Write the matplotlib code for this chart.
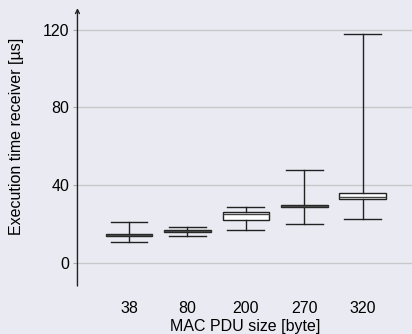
import matplotlib
matplotlib.use("Agg")
import matplotlib.pyplot as plt

categories = ["38", "80", "200", "270", "320"]
whisker_low = [10.8, 13.7, 17.0, 19.9, 22.8]
q1 = [13.7, 15.8, 22.0, 28.7, 32.8]
medians = [14.4, 16.3, 25.2, 29.3, 34.0]
q3 = [14.9, 17.0, 26.0, 30.0, 35.9]
whisker_high = [20.9, 18.7, 28.8, 47.9, 117.9]
yticks = [0, 40, 80, 120]

plt.rcParams['font.family'] = ['Liberation Sans', 'DejaVu Sans']
bg = "#eaeaf2"
fig = plt.figure(figsize=(4.12, 3.34), dpi=100, facecolor=bg)
ax = fig.add_axes([0.188, 0.1437, 0.812, 0.832], facecolor=bg)

stats = []
for i, c in enumerate(categories):
    stats.append(dict(label=c, whislo=whisker_low[i], q1=q1[i], med=medians[i],
                      q3=q3[i], whishi=whisker_high[i], fliers=[]))
positions = list(range(1, len(categories) + 1))
ax.bxp(stats, positions=positions, widths=0.8, showfliers=False, patch_artist=True,
       boxprops=dict(facecolor="white", edgecolor="#222222", linewidth=1.0),
       medianprops=dict(color="#444444", linewidth=1.0),
       whiskerprops=dict(color="#222222", linewidth=1.0),
       capprops=dict(color="#222222", linewidth=1.0), capwidths=0.63)

ax.set_xlim(0.12, 5.84)
ax.set_ylim(-11.8, 131)
ax.set_yticks(yticks)
ax.set_yticklabels([str(t) for t in yticks])
ax.set_xticks(positions)
ax.set_xticklabels(categories)
ax.yaxis.grid(True, color="#c8c8cc", linewidth=1.0)
ax.xaxis.grid(False)
ax.set_axisbelow(True)
for s in ["top", "right", "bottom", "left"]:
    ax.spines[s].set_visible(False)
ax.tick_params(axis="y", length=3, color="#aaaaaa", labelsize=11.5, pad=3)
ax.tick_params(axis="x", length=0, labelsize=11.5, pad=11)
ax.annotate("", xy=(0, 1.0), xytext=(0, 0), xycoords="axes fraction",
            arrowprops=dict(arrowstyle="->", color="#222222", lw=1.0,
                            mutation_scale=7, shrinkA=0, shrinkB=0))
ax.set_xlabel("MAC PDU size [byte]", fontsize=11.5, labelpad=2)
ax.set_ylabel("Execution time receiver [µs]", fontsize=11.5)
ax.yaxis.set_label_coords(-0.16, 0.538)
fig.savefig("out.png", dpi=100, facecolor=bg)
